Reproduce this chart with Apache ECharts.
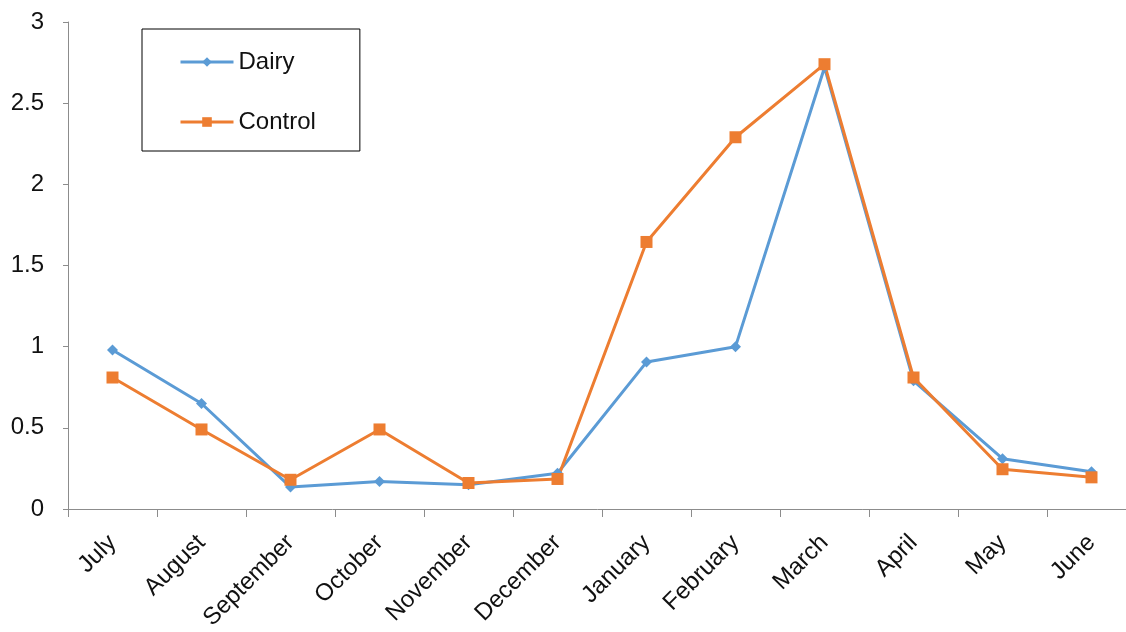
<!DOCTYPE html>
<html>
<head>
<meta charset="utf-8">
<script src="https://cdn.jsdelivr.net/npm/echarts@6/dist/echarts.min.js"></script>
<style>
html,body{margin:0;padding:0;background:#fff;}
#chart{width:1126px;height:632px;}
</style>
</head>
<body>
<div id="chart"></div>
<script>
const categories = ['July','August','September','October','November','December','January','February','March','April','May','June'];
const dairy   = [0.98, 0.65, 0.135, 0.17, 0.15, 0.22, 0.905, 1.0, 2.72, 0.79, 0.31, 0.23];
const control = [0.81, 0.49, 0.18, 0.49, 0.16, 0.185, 1.645, 2.29, 2.74, 0.81, 0.245, 0.195];
const yTicks  = ['0','0.5','1','1.5','2','2.5','3'];

const chart = echarts.init(document.getElementById('chart'), null, {renderer:'canvas'});
const font = 'Liberation Sans, Arial, sans-serif';
chart.setOption({
  animation:false,
  backgroundColor:'#fff',
  grid:{left:68, top:22, width:1068, height:487, containLabel:false, outerBoundsMode:'none'},
  legend:{
    orient:'vertical', left:142, top:29,
    padding:[21,44,17,37],
    borderColor:'#000', borderWidth:1,
    itemWidth:53, itemHeight:12, itemGap:36,
    lineStyle:{width:3},
    textStyle:{fontFamily:font, fontSize:24, color:'#111'},
    data:['Dairy','Control']
  },
  xAxis:{
    type:'category', data:categories, boundaryGap:true,
    axisLine:{lineStyle:{color:'#8c8c8c', width:1}},
    axisTick:{show:true, alignWithLabel:false, length:8, lineStyle:{color:'#8c8c8c'}},
    axisLabel:{rotate:45, interval:0, fontFamily:font, fontSize:24, color:'#111', margin:30}
  },
  yAxis:{
    type:'value', min:0, max:3, interval:0.5,
    axisLine:{show:true, lineStyle:{color:'#8c8c8c', width:1}},
    axisTick:{show:true, length:5, lineStyle:{color:'#8c8c8c'}},
    splitLine:{show:false},
    axisLabel:{fontFamily:font, fontSize:24, color:'#111', margin:24,
      formatter:function(v){ const i=Math.round(v/0.5); return yTicks[i]!==undefined?yTicks[i]:String(v); }}
  },
  series:[
    {name:'Dairy', type:'line', data:dairy, symbol:'diamond', symbolSize:11,
     itemStyle:{color:'#5B9BD5'}, lineStyle:{color:'#5B9BD5', width:3}},
    {name:'Control', type:'line', data:control, symbol:'rect', symbolSize:12,
     itemStyle:{color:'#ED7D31'}, lineStyle:{color:'#ED7D31', width:3}}
  ]
});
</script>
</body>
</html>
